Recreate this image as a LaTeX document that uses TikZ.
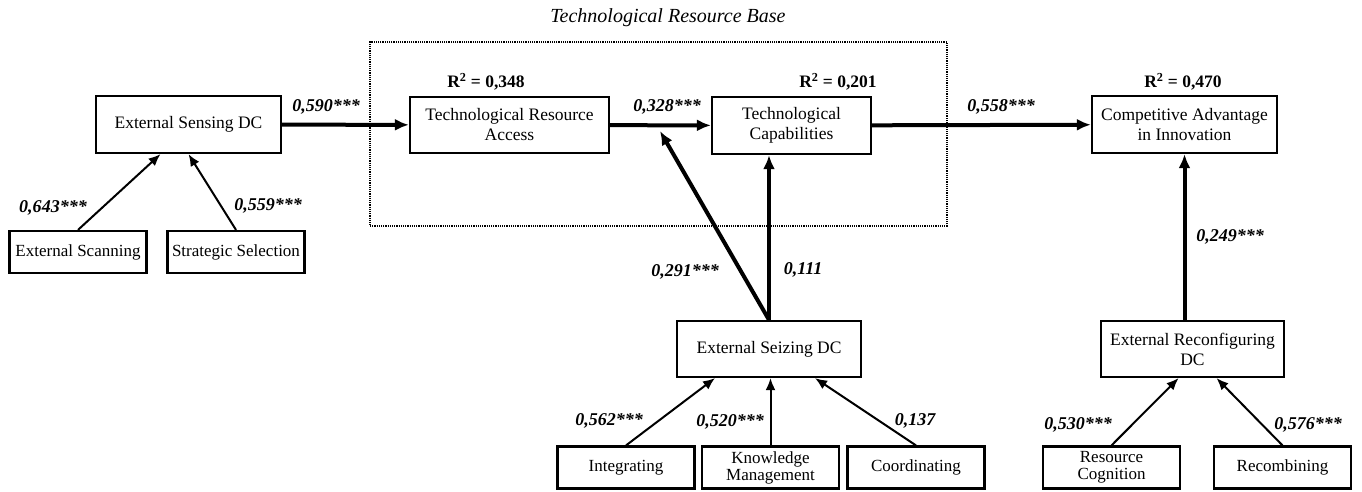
\documentclass[tikz,border=0pt]{standalone}
\usepackage{fontspec}
\setmainfont{Liberation Serif}
\usepackage{tikz}
\usetikzlibrary{arrows.meta,calc}

\begin{document}
\begin{tikzpicture}[x=1pt,y=-1pt,
  box/.style={draw,line width=2.2pt,rectangle,align=center,font=\fontsize{17.5}{20}\selectfont,inner sep=1pt},
  small/.style={box,minimum width=137pt,minimum height=42pt,font=\fontsize{17}{17}\selectfont},
  coef/.style={font=\fontsize{18}{20}\selectfont\bfseries\itshape},
  rsq/.style={font=\fontsize{17.5}{20}\selectfont\bfseries},
  indarr/.style={-{Latex[length=12pt,width=10pt]},line width=2pt},
  patharr/.style={-{Latex[length=14pt,width=12pt]},line width=4pt},
  dotbox/.style={draw,line width=2.4pt,dash pattern=on 1.2pt off 1pt,minimum width=577pt,minimum height=184pt}]
\useasboundingbox (0,0) rectangle (1362,491);
% resource base frame
\node[dotbox] (trb) at (658.5,134) {};
\node[font=\fontsize{20}{22}\selectfont\itshape] (trbtitle) at (668,18) {Technological Resource Base};
% main constructs
\node[box,minimum width=185pt,minimum height=57pt] (sens) at (188.5,124.5) {External Sensing DC};
\node[box,minimum width=199pt,minimum height=56pt] (tra) at (509.5,125) {Technological Resource\\Access};
\node[box,minimum width=159pt,minimum height=57pt] (tc) at (791.5,125.5) {Technological\\Capabilities};
\node[box,minimum width=185pt,minimum height=57pt] (cai) at (1184.5,124.5) {Competitive Advantage\\in Innovation};
\node[box,minimum width=184pt,minimum height=56pt] (seiz) at (769,349) {External Seizing DC};
\node[box,minimum width=183pt,minimum height=56pt] (reconf) at (1192.5,349) {External Reconfiguring\\DC};
% indicators
\node[small] (scan) at (78,252) {External Scanning};
\node[small] (sel) at (236,252) {Strategic Selection};
\node[small] (integ) at (626,467.5) {Integrating};
\node[small] (km) at (770.5,467.5) {Knowledge\\Management};
\node[small] (coord) at (916,467.5) {Coordinating};
\node[small] (rcog) at (1111.5,467.5) {Resource\\Cognition};
\node[small] (recomb) at (1282.5,467.5) {Recombining};
% R squared
\node[rsq] (rtra) at (486,82) {R\textsuperscript{2} = 0,348};
\node[rsq] (rtc) at (838,82) {R\textsuperscript{2} = 0,201};
\node[rsq] (rcai) at (1183,82) {R\textsuperscript{2} = 0,470};
% paths
\coordinate (hit) at (660,131);
\draw[patharr] (sens) -- (tra);
\draw[patharr] (tra) -- (tc);
\draw[patharr] (tc) -- (cai);
\draw[patharr] (seiz.north) -- (hit);
\draw[patharr] (seiz.north) -- (seiz.north |- tc.south);
\draw[patharr] (reconf.north -| cai) -- (cai.south);
\draw[indarr] (scan.north) -- ([xshift=-28pt]sens.south);
\draw[indarr] (sel.north) -- (sens.south);
\draw[indarr] (integ.north) -- ([xshift=-54pt]seiz.south);
\draw[indarr] (km.north) -- (km.north |- seiz.south);
\draw[indarr] (coord.north) -- ([xshift=46pt]seiz.south);
\draw[indarr] (rcog.north) -- ([xshift=-14pt]reconf.south);
\draw[indarr] (recomb.north) -- ([xshift=24pt]reconf.south);
% coefficients
\node[coef] (c1) at (326,107) {0,590***};
\node[coef] (c2) at (53,208) {0,643***};
\node[coef] (c3) at (268,206) {0,559***};
\node[coef] (c4) at (667,107) {0,328***};
\node[coef] (c5) at (1001,107) {0,558***};
\node[coef] (c6) at (685,272) {0,291***};
\node[coef] (c7) at (803,270) {0,111};
\node[coef] (c8) at (1230,237) {0,249***};
\node[coef] (c9) at (609,421) {0,562***};
\node[coef] (c10) at (730,422) {0,520***};
\node[coef] (c11) at (915,421) {0,137};
\node[coef] (c12) at (1078,425) {0,530***};
\node[coef] (c13) at (1308,425) {0,576***};
\end{tikzpicture}
\end{document}
